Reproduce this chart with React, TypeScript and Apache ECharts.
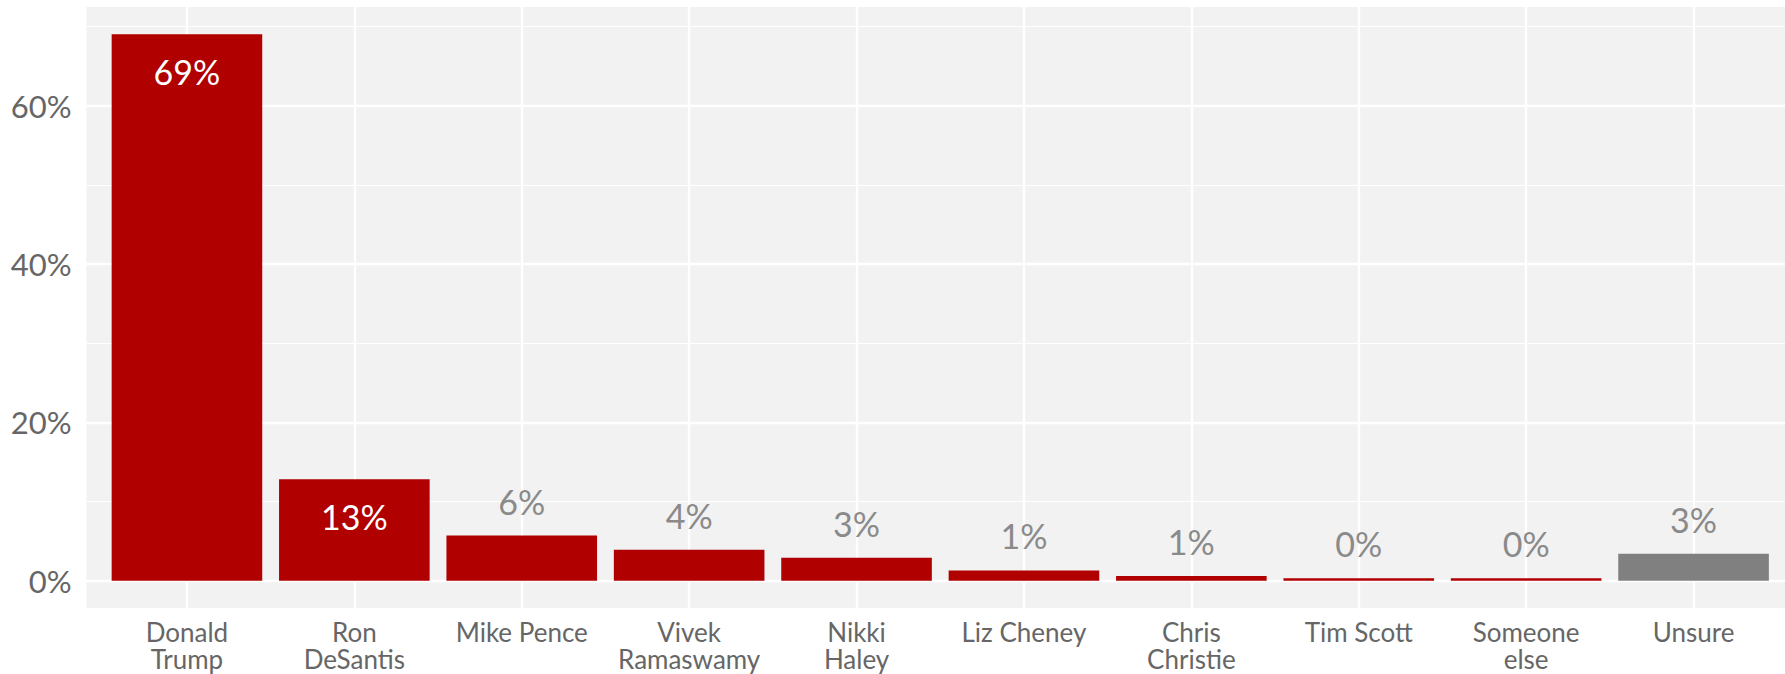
import React, { useEffect, useRef } from 'react';
import * as echarts from 'echarts';

const categories = [
  'Donald\nTrump',
  'Ron\nDeSantis',
  'Mike Pence',
  'Vivek\nRamaswamy',
  'Nikki\nHaley',
  'Liz Cheney',
  'Chris\nChristie',
  'Tim Scott',
  'Someone\nelse',
  'Unsure',
];
const values = [69, 12.8, 5.7, 3.9, 2.9, 1.3, 0.6, 0.3, 0.3, 3.4];
const yMajorTicks = [0, 20, 40, 60];
const yMinorTicks = [10, 30, 50, 70];

const RED = '#B00000';
const GRAY_BAR = '#808080';
const FONT = 'Lato';

export default function App() {
  const ref = useRef<HTMLDivElement>(null);

  useEffect(() => {
    if (!ref.current) return;
    const chart = echarts.init(ref.current, null, { renderer: 'svg' });

    const n = categories.length;
    const yMax = Math.max(...values);
    const yPad = yMax * 0.05;

    const data = values.map((v, i) => ({
      value: [i, v],
      itemStyle: { color: categories[i] === 'Unsure' ? GRAY_BAR : RED },
      label:
        v >= 10
          ? { position: 'insideTop', distance: 20.5, color: '#ffffff' }
          : { position: 'top', distance: 17.5, color: '#8a8a8a' },
    }));

    const gridLineData: any[] = [];
    yMajorTicks.forEach((t) =>
      gridLineData.push({ yAxis: t, lineStyle: { color: '#ffffff', width: 2.4, type: 'solid' } })
    );
    yMinorTicks.forEach((t) =>
      gridLineData.push({ yAxis: t, lineStyle: { color: '#ffffff', width: 1.2, type: 'solid' } })
    );
    categories.forEach((_, i) =>
      gridLineData.push({ xAxis: i, lineStyle: { color: '#ffffff', width: 2.4, type: 'solid' } })
    );

    chart.setOption({
      animation: false,
      textStyle: { fontFamily: FONT },
      grid: {
        left: 86.5,
        right: -9,
        top: 7,
        bottom: 66,
        show: true,
        backgroundColor: '#F2F2F2',
        borderWidth: 0,
        containLabel: false,
        outerBoundsMode: 'none',
      },
      xAxis: {
        type: 'value',
        min: -0.6,
        max: n - 1 + 0.6,
        minInterval: 1,
        maxInterval: 1,
        splitLine: { show: false },
        axisLine: { show: false },
        axisTick: { show: false },
        axisLabel: {
          show: true,
          fontFamily: FONT,
          fontSize: 26,
          color: '#666666',
          lineHeight: 27.5,
          verticalAlign: 'top',
          margin: 10,
          showMinLabel: true,
          showMaxLabel: true,
          formatter: (v: number) => {
            const r = Math.round(v);
            if (Math.abs(v - r) > 1e-6 || r < 0 || r >= n) return '';
            return categories[r];
          },
        },
      },
      yAxis: {
        type: 'value',
        min: -yPad,
        max: yMax + yPad,
        minInterval: 20,
        maxInterval: 20,
        splitLine: { show: false },
        axisLine: { show: false },
        axisTick: { show: false },
        axisLabel: {
          fontFamily: FONT,
          fontSize: 31,
          color: '#666666',
          margin: 15,
          formatter: (v: number) => {
            const r = Math.round(v);
            if (Math.abs(v - r) > 1e-6 || r % 20 !== 0) return '';
            return r + '%';
          },
        },
      },
      series: [
        {
          type: 'bar',
          data,
          barWidth: 150.6,
          z: 2,
          label: {
            show: true,
            fontFamily: FONT,
            fontSize: 34,
            formatter: (p: any) => Math.round(p.value[1]) + '%',
          },
          markLine: {
            silent: true,
            z: 1,
            symbol: ['none', 'none'],
            label: { show: false },
            emphasis: { disabled: true },
            data: gridLineData,
          },
        },
      ],
    });

    return () => {
      chart.dispose();
    };
  }, []);

  return (
    <div
      ref={ref}
      style={{ position: 'absolute', left: 0, top: 0, width: 1785, height: 674 }}
    />
  );
}
